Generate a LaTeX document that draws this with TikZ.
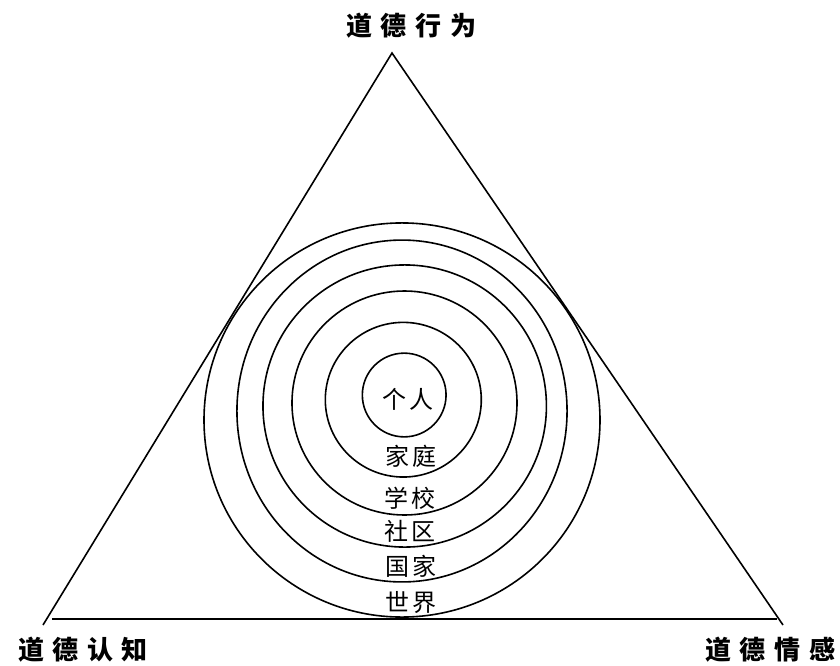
\documentclass[tikz,border=0pt]{standalone}
\usepackage{fontspec}
\newfontfamily\cjk{Noto Sans CJK SC}
\tikzset{
  ring/.style={line width=1.2pt},
  edge/.style={line width=1.2pt},
  outerlabel/.style={inner sep=0pt, font=\cjk\bfseries\fontsize{19.5pt}{20pt}\selectfont},
  innerlabel/.style={inner sep=0pt, font=\cjk\fontsize{18pt}{19pt}\selectfont},
}
\newcommand{\gp}{\hspace{6.5pt}}
\newcommand{\gi}{\hspace{3pt}}
\begin{document}
\begin{tikzpicture}[x=0.75pt,y=-0.75pt]
\useasboundingbox (0,0) rectangle (840,665);
% triangle
\coordinate (apex) at (392,53);
\coordinate (bl) at (43,625);
\coordinate (br) at (783,625);
\coordinate (basel) at (52,619);
\coordinate (baser) at (777,619);
\draw[edge] (bl) -- (apex) -- (br);
\draw[edge] (basel) -- (baser);
% rings
\draw[ring] (404.2,395) ellipse [x radius=31.4pt, y radius=31.4pt];
\draw[ring] (403.3,399.7) ellipse [x radius=58.5pt, y radius=58pt];
\draw[ring] (404.5,403) ellipse [x radius=84.4pt, y radius=84pt];
\draw[ring] (404.7,406) ellipse [x radius=106.3pt, y radius=105.8pt];
\draw[ring] (402,411) ellipse [x radius=123.8pt, y radius=128.2pt];
\draw[ring] (402,420) ellipse [x radius=148.5pt, y radius=147.8pt];
% inner labels
\node[innerlabel] (geren) at (408,399) {个\gi 人};
\node[innerlabel] (jiating) at (411,456) {家\gi 庭};
\node[innerlabel] (xuexiao) at (410,498) {学\gi 校};
\node[innerlabel] (shequ) at (410,531) {社\gi 区};
\node[innerlabel] (guojia) at (411,566) {国\gi 家};
\node[innerlabel] (shijie) at (411,603) {世\gi 界};
% outer labels
\node[outerlabel] (xingwei) at (411,26) {道\gp 德\gp 行\gp 为};
\node[outerlabel] (renzhi) at (83,650) {道\gp 德\gp 认\gp 知};
\node[outerlabel] (qinggan) at (770,650) {道\gp 德\gp 情\gp 感};
\end{tikzpicture}
\end{document}
